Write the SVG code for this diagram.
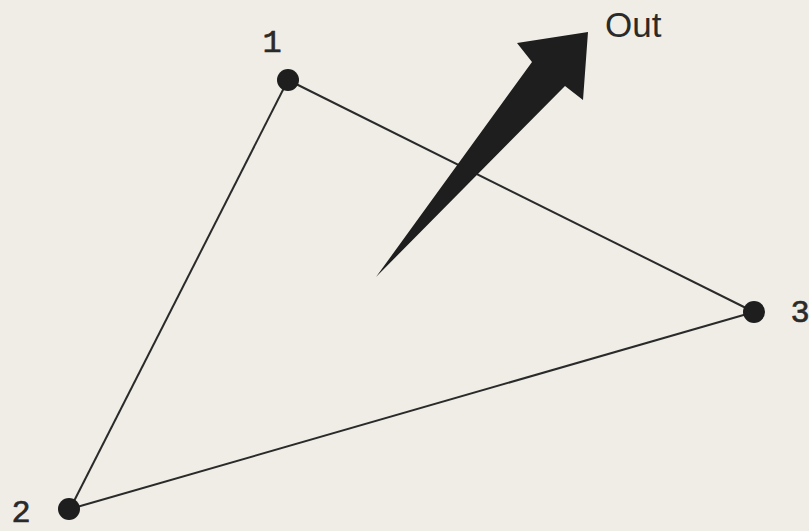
<svg xmlns="http://www.w3.org/2000/svg" width="809" height="531" viewBox="0 0 809 531">
<style>
.edge{stroke:#2a2a2a;stroke-width:2;fill:none}
.node{fill:#1e1e1e}
.lbl{font-family:"Liberation Mono","DejaVu Sans Mono",monospace;font-size:32px;fill:#2a2a2a;stroke:#2a2a2a;stroke-width:0.6}
.out{font-family:"Liberation Sans","DejaVu Sans",sans-serif;font-size:35px;fill:#2a2a2a}
</style>
<rect width="809" height="531" fill="#efede6"/>
<g id="connectors">
<line class="edge" x1="288" y1="80" x2="754" y2="312"/>
<line class="edge" x1="288" y1="80" x2="70" y2="509"/>
<line class="edge" x1="70" y1="509" x2="754" y2="312"/>
</g>
<g id="arrow">
<polygon points="376,277 532,62 517,43 588,32 583,100 565,86" fill="#1e1e1e"/>
<text class="out" x="605" y="37">Out</text>
</g>
<g id="node1">
<circle class="node" cx="288" cy="80" r="11"/>
<text class="lbl" x="272" y="52" text-anchor="middle">1</text>
</g>
<g id="node2">
<circle class="node" cx="69" cy="509" r="11"/>
<text class="lbl" x="21" y="522" text-anchor="middle">2</text>
</g>
<g id="node3">
<circle class="node" cx="754" cy="312" r="11"/>
<text class="lbl" x="800" y="322" text-anchor="middle">3</text>
</g>
</svg>
